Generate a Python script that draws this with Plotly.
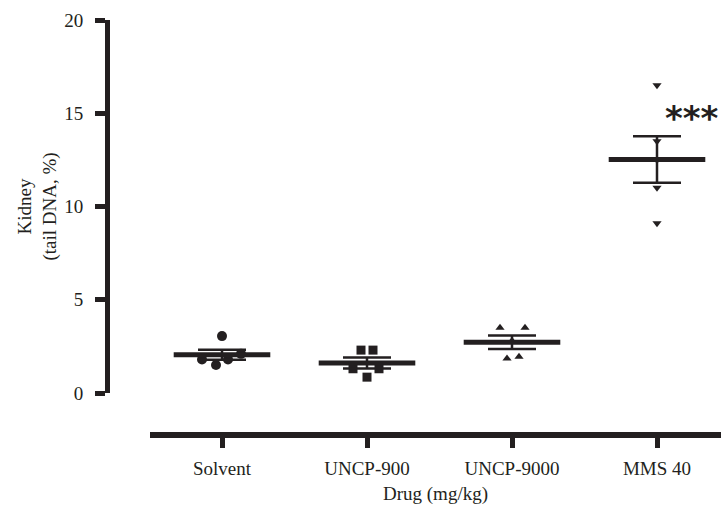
import numpy as np
import plotly.graph_objects as go

# ---- data ----
categories = ["Solvent", "UNCP-900", "UNCP-9000", "MMS 40"]
solvent = [3.05, 2.1, 1.8, 1.5, 1.8]
uncp900 = [2.3, 2.3, 1.3, 1.3, 0.85]
uncp9000 = [3.5, 3.5, 2.8, 1.85, 1.95]
mms40 = [16.5, 13.5, 12.5, 11.0, 9.1]
y_ticks = [0, 5, 10, 15, 20]
significance = "***"
sig_level = 14.75

# ---- styling ----
INK = "#231f20"
FONT = "Liberation Serif, Times New Roman, serif"
CAT_PX = 145.0  # pixels per category step
jitter_px = [
    [0, 19, -20, -6, 6],
    [-6, 6, -14, 12, 0],
    [-12, 13, 0, -5, 7],
    [0, 0, 0, 0, 0],
]
symbols = ["circle", "square", "triangle-up", "triangle-down"]
msizes = [10, 9, 8, 8]

groups = [solvent, uncp900, uncp9000, mms40]

fig = go.Figure()

for i, vals in enumerate(groups):
    xs = [i + j / CAT_PX for j in jitter_px[i]]
    fig.add_trace(go.Scatter(
        x=xs, y=vals, mode="markers",
        marker=dict(symbol=symbols[i], size=msizes[i], color=INK, line=dict(width=0)),
        showlegend=False, hoverinfo="y",
    ))

means = [float(np.mean(v)) for v in groups]
sems = [float(np.std(v, ddof=1) / np.sqrt(len(v))) for v in groups]

# error bars (SEM)
fig.add_trace(go.Scatter(
    x=list(range(len(categories))), y=means, mode="markers",
    marker=dict(size=1, color=INK, opacity=0),
    error_y=dict(type="data", array=sems, visible=True, color=INK,
                 thickness=2.5, width=24),
    showlegend=False, hoverinfo="skip",
))
# mean lines
fig.add_trace(go.Scatter(
    x=list(range(len(categories))), y=means, mode="markers",
    marker=dict(symbol="line-ew", size=69, color=INK,
                line=dict(width=5, color=INK)),
    showlegend=False, hoverinfo="y",
))

# significance stars
fig.add_annotation(
    x=3 + 6 / CAT_PX, y=sig_level, xref="x", yref="y",
    text=significance, showarrow=False, xanchor="left", yanchor="middle",
    font=dict(family="DejaVu Sans, sans-serif", size=34, color=INK, weight="bold"),
)

W, H = 721, 507
ml, mr, mt, mb = 107, 0, 20, 72
pw = W - ml - mr
ph = H - mt - mb
x0_px = 150 - ml  # x axis start inside plot area
y0_px = 435 - 393  # gap below y=0
x_start = -(222 - 150) / CAT_PX
x_end = x_start + (W - 150) / CAT_PX

fig.update_layout(
    width=W, height=H,
    margin=dict(l=ml, r=mr, t=mt, b=mb, pad=0),
    paper_bgcolor="white", plot_bgcolor="white",
    font=dict(family=FONT, size=19, color=INK),
    xaxis=dict(
        domain=[x0_px / pw, 1], range=[x_start, x_end],
        anchor="free", position=0,
        tickmode="array", tickvals=list(range(len(categories))), ticktext=categories,
        showline=True, linewidth=6, linecolor=INK,
        ticks="outside", ticklen=10, tickwidth=5, tickcolor=INK,
        showgrid=False, zeroline=False,
        title=dict(text="Drug (mg/kg)", standoff=8, font=dict(size=19)),
        ticklabelstandoff=4,
    ),
    yaxis=dict(
        domain=[y0_px / ph, 1], range=[0, 20],
        anchor="free", position=0,
        tickmode="array", tickvals=y_ticks,
        showline=True, linewidth=5, linecolor=INK,
        ticks="outside", ticklen=10, tickwidth=5, tickcolor=INK,
        showgrid=False, zeroline=False,
        title=dict(text="Kidney<br>(tail DNA, %)", standoff=1, font=dict(size=19)),
        ticklabelstandoff=8,
    ),
)

fig.write_html("out.html")
